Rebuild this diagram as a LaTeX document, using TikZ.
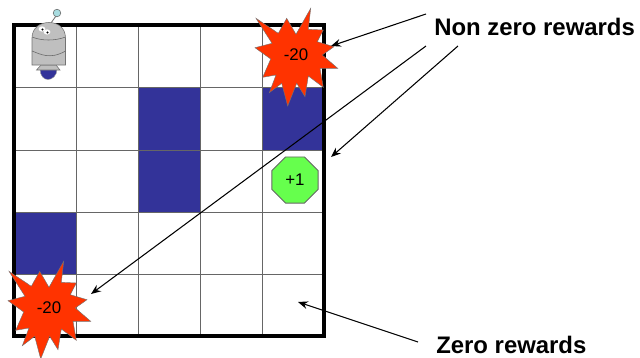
\documentclass[tikz,border=0pt]{standalone}
\usepackage{fontspec}
\setmainfont{Liberation Sans}
\usetikzlibrary{shapes.geometric,arrows.meta}

\begin{document}
\begin{tikzpicture}[
    x=0.025cm, y=-0.025cm,
    gridline/.style={draw=black!60, line width=0.5pt},
    gridframe/.style={draw=black, line width=2.3pt},
    wallcell/.style={fill=wallblue, draw=none},
    burstshape/.style={fill=burstred, draw=black!55, line width=0.3pt},
    reward/.style={font=\fontsize{12}{14}\selectfont, inner sep=0pt},
    goal/.style={draw=black!60, line width=0.7pt, fill=goalgreen, regular polygon, regular polygon sides=8, minimum size=1.245cm, inner sep=0pt, font=\fontsize{12}{14}\selectfont},
    heading/.style={font=\fontsize{17}{20}\selectfont\bfseries, inner sep=0pt},
    pointer/.style={-{Stealth[length=7pt,width=5.5pt]}, line width=0.75pt, draw=black},
    robotpart/.style={fill=black!25, draw=black!55, line width=0.4pt},
    burst/.pic={
        \path[burstshape] (14.7,-46.7) -- (12.3,-25.7) -- (27.3,-25) -- (21.3,-13.3) -- (38,-8.3)
            -- (26.3,0) -- (41.7,13.3) -- (24,13.3) -- (27.3,32.3) -- (12.3,21) -- (9,41.7)
            -- (0.7,28.3) -- (-8.3,51) -- (-14.3,28.3) -- (-26.7,37.7) -- (-20,20) -- (-33.3,22.3)
            -- (-25.3,4) -- (-41,-7.3) -- (-24,-11.7) -- (-40,-36.7) -- (-17.7,-21.7) -- (-9.3,-36.7)
            -- (0,-20.7) -- cycle;
    },
]
\definecolor{wallblue}{HTML}{333399}
\definecolor{burstred}{HTML}{FF3300}
\definecolor{goalgreen}{HTML}{66FF4D}
\definecolor{robotball}{HTML}{A8DCE0}

\useasboundingbox (0,0) rectangle (640,357);

% Walls
\path[wallcell] (138,87) rectangle (200,212);
\path[wallcell] (262,87) rectangle (324,150);
\path[wallcell] (14,212) rectangle (76,274);

% Grid
\foreach \gx in {76,138,200,262} {
    \draw[gridline] (\gx,25) -- (\gx,336);
}
\foreach \gy in {87,150,212,274} {
    \draw[gridline] (14,\gy) -- (324,\gy);
}
\draw[gridframe] (14,25) rectangle (324,336);

% Robot
\draw[black!55, line width=0.6pt] (51,23) -- (56,16);
\draw[black!60, line width=0.4pt, fill=robotball] (57,13) circle (3.8);
\path[fill=wallblue, draw=black!40, line width=0.3pt] (40,69) .. controls (40,76) and (44,79.5) .. (48,79.5) .. controls (52,79.5) and (57,76) .. (57,69) -- cycle;
\path[robotpart] (41,65) -- (56,65) -- (60,70) -- (36.5,70) -- cycle;
\path[robotpart] (32,65) -- (32,38) .. controls (32,28) and (40,22.5) .. (49,22.5) .. controls (58,22.5) and (65.5,28) .. (65.5,38) -- (65.5,65) -- cycle;
\draw[black!60, line width=0.4pt] (32,37) .. controls (42,41) and (55,41) .. (65.5,37);
\draw[black!60, line width=0.4pt] (32,51) .. controls (40,54) and (50,60) .. (65.5,51);
\fill[white] (42,29) ellipse (3.4 and 2.6);
\fill[white] (47,32) ellipse (3.4 and 2.6);
\fill[black] (42.5,29.5) circle (1.2);
\fill[black] (47.5,32.5) circle (1.2);

% Rewards
\pic at (296,55) {burst};
\pic at (49,308) {burst};
\node[reward] (rewardtop) at (296,55) {-20};
\node[reward] (rewardbottom) at (49,308) {-20};
\node[goal] (rewardgoal) at (295,180) {+1};

% Labels
\node[heading, anchor=west] (nonzero) at (434,27) {Non zero rewards};
\node[heading, anchor=west] (zero) at (436,345) {Zero rewards};

% Arrow ends
\coordinate (nonzeroa) at (426,14);
\coordinate (nonzerob) at (426,46);
\coordinate (nonzeroc) at (458,46);
\coordinate (zeroa) at (418,342);
\coordinate (tiptop) at (331,46);
\coordinate (tipbottom) at (91,294);
\coordinate (tipgoal) at (331,157);
\coordinate (tipzero) at (298,302);

\draw[pointer] (nonzeroa) -- (tiptop);
\draw[pointer] (nonzerob) -- (tipbottom);
\draw[pointer] (nonzeroc) -- (tipgoal);
\draw[pointer] (zeroa) -- (tipzero);

\end{tikzpicture}
\end{document}
